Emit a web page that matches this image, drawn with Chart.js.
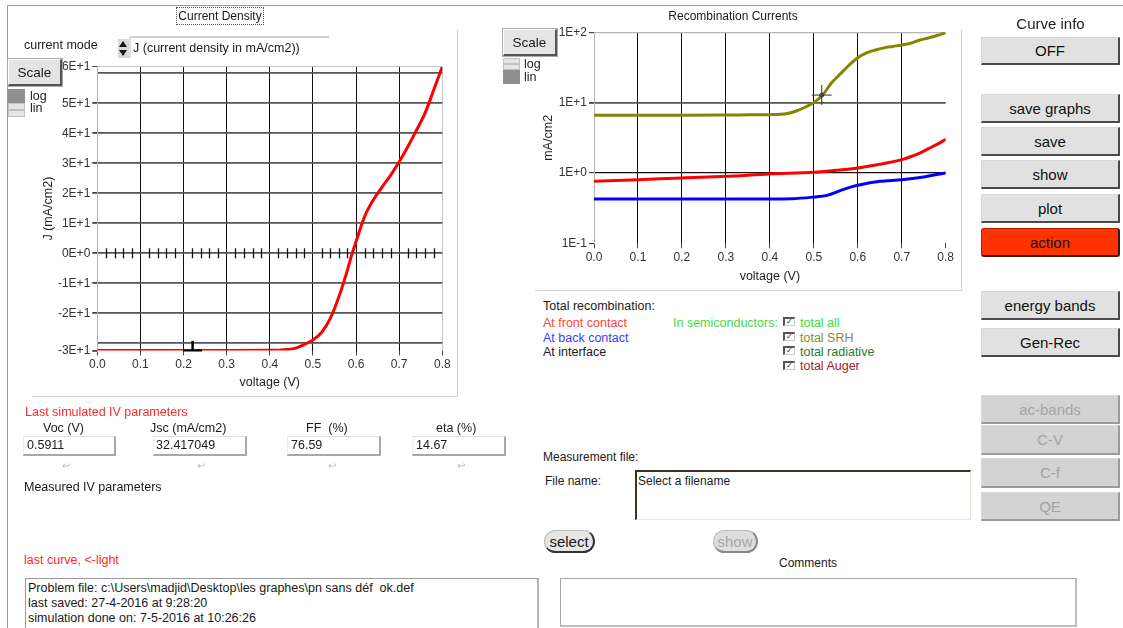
<!DOCTYPE html>
<html>
<head>
<meta charset="utf-8">
<script src="https://cdn.jsdelivr.net/npm/chart.js@4.4.0/dist/chart.umd.min.js"></script>
<style>
body{margin:0;background:#fff;font-family:"Liberation Sans",Arial,sans-serif;font-size:12.5px;color:#1a1a1a}
#win{position:relative;width:1123px;height:628px;overflow:hidden;background:#fff}
.t{position:absolute;white-space:nowrap;line-height:14px}
.ln{position:absolute}
.btn{position:absolute;left:981px;width:139px;box-sizing:border-box;background:#e1e1e1;
  border-top:1px solid #d8d8d8;border-left:1px solid #d8d8d8;border-right:2px solid #4a4a4a;border-bottom:2px solid #4a4a4a;
  font-size:15px;display:flex;align-items:center;justify-content:center;color:#111}
.btn.off{background:#d3d3d3;color:#a3a3a3;border-right:2px solid #9a9a9a;border-bottom:2px solid #9a9a9a}
.btn.red{background:#ff3300;border-radius:3px;border:1px solid #b02000;border-right:2px solid #3a1a10;border-bottom:2px solid #3a1a10}
.scale{position:absolute;width:54px;height:27px;box-sizing:border-box;background:#e4e4e4;
  border-top:1px solid #fff;border-left:1px solid #fff;border-right:2px solid #555;border-bottom:2px solid #555;
  box-shadow:0 0 0 1px #aaa;font-size:13.5px;display:flex;align-items:center;justify-content:center}
.box{position:absolute;box-sizing:border-box;background:#fff;border-top:1px solid #ddd;border-left:1px solid #eee;
  border-right:2px solid #a8a8a8;border-bottom:2px solid #a8a8a8;padding-left:3px;line-height:17px;font-size:12.5px}
.cb{position:absolute;left:783px;width:12px;height:9px;box-sizing:border-box;border-top:2px solid #555;border-left:2px solid #555;
  border-right:1px solid #ccc;border-bottom:1px solid #ccc;font-size:8px;line-height:6px;text-align:center;color:#222}
.curl{position:absolute;font-size:10px;color:#b8b8b8;line-height:10px}
.pill{position:absolute;top:530px;height:23px;box-sizing:border-box;border-radius:12px;background:#e6e6e6;
  border:1px solid #bbb;border-right:2px solid #333;border-bottom:2px solid #333;font-size:15px;display:flex;align-items:center;justify-content:center}
</style>
</head>
<body>
<div id="win">
  <div class="ln" style="left:7px;top:5px;width:1116px;height:1px;background:#8e9bb0"></div>
  <div class="ln" style="left:7px;top:5px;width:1px;height:623px;background:#8e9bb0"></div>

  <!-- left graph -->
  <canvas id="jvChart" width="460" height="400" style="position:absolute;left:0;top:0"></canvas>
  <div class="ln" style="left:457px;top:30px;width:1px;height:366px;background:#cfcfcf"></div>
  <div class="ln" style="left:32px;top:396px;width:426px;height:1px;background:#cfcfcf"></div>
  <div class="t" style="left:176px;top:7px;width:86px;height:16px;border:1px dotted #555;text-align:center;line-height:16px;font-size:12px">Current Density</div>
  <div class="t" style="left:24px;top:38px">current mode</div>
  <div class="ln" style="left:118px;top:39px;width:11px;height:19px;background:#d8d8d8"></div>
  <div class="ln" style="left:119px;top:41px;width:0;height:0;border-left:4.5px solid transparent;border-right:4.5px solid transparent;border-bottom:6px solid #111"></div>
  <div class="ln" style="left:119px;top:50px;width:0;height:0;border-left:4.5px solid transparent;border-right:4.5px solid transparent;border-top:6px solid #111"></div>
  <div class="ln" style="left:129px;top:36px;width:200px;height:2px;background:#d0d0d0"></div>
  <div class="ln" style="left:129px;top:36px;width:2px;height:22px;background:#e0e0e0"></div>
  <div class="t" style="left:133px;top:41px">J (current density in mA/cm2))</div>
  <div class="scale" style="left:8px;top:59px">Scale</div>
  <div class="ln" style="left:8px;top:89px;width:17px;height:14px;background:#8f8f8f"></div>
  <div class="ln" style="left:8px;top:103px;width:17px;height:7px;box-sizing:border-box;background:#e4e4e4;border:1px solid #c0c0c0"></div>
  <div class="ln" style="left:8px;top:110px;width:17px;height:7px;box-sizing:border-box;background:#e4e4e4;border:1px solid #c0c0c0"></div>
  <div class="t" style="left:30px;top:90px;line-height:12px">log</div>
  <div class="t" style="left:30px;top:102px;line-height:12px">lin</div>

  <!-- right graph -->
  <canvas id="recChart" width="462" height="290" style="position:absolute;left:500px;top:0"></canvas>
  <div class="ln" style="left:961px;top:30px;width:1px;height:260px;background:#cfcfcf"></div>
  <div class="ln" style="left:535px;top:290px;width:427px;height:1px;background:#cfcfcf"></div>
  <div class="t" style="left:633px;top:9px;width:200px;text-align:center;font-size:12px">Recombination Currents</div>
  <div class="scale" style="left:503px;top:29px">Scale</div>
  <div class="ln" style="left:503px;top:58px;width:17px;height:6px;box-sizing:border-box;background:#e4e4e4;border:1px solid #c0c0c0"></div>
  <div class="ln" style="left:503px;top:64px;width:17px;height:6px;box-sizing:border-box;background:#e4e4e4;border:1px solid #c0c0c0"></div>
  <div class="ln" style="left:503px;top:70px;width:17px;height:14px;background:#8f8f8f"></div>
  <div class="t" style="left:524px;top:58px;line-height:12px">log</div>
  <div class="t" style="left:524px;top:71px;line-height:12px">lin</div>

  <!-- legend of recombination -->
  <div class="t" style="left:543px;top:299px">Total recombination:</div>
  <div class="t" style="left:543px;top:316px;color:#ff4535">At front contact</div>
  <div class="t" style="left:543px;top:331px;color:#3a3aff">At back contact</div>
  <div class="t" style="left:543px;top:345px">At interface</div>
  <div class="t" style="left:673px;top:316px;color:#48d848">In semiconductors:</div>
  <div class="cb" style="top:317px">✓</div>
  <div class="cb" style="top:332px">✓</div>
  <div class="cb" style="top:346px">✓</div>
  <div class="cb" style="top:361px">✓</div>
  <div class="t" style="left:800px;top:316px;color:#36e036">total all</div>
  <div class="t" style="left:800px;top:331px;color:#8c8a30">total SRH</div>
  <div class="t" style="left:800px;top:345px;color:#1f7a35">total radiative</div>
  <div class="t" style="left:800px;top:359px;color:#a52028">total Auger</div>

  <!-- IV parameters -->
  <div class="t" style="left:25px;top:405px;color:#ff2a2a">Last simulated IV parameters</div>
  <div class="t" style="left:43px;top:421px">Voc (V)</div>
  <div class="t" style="left:150px;top:421px">Jsc (mA/cm2)</div>
  <div class="t" style="left:306px;top:421px">FF&nbsp; (%)</div>
  <div class="t" style="left:436px;top:421px">eta (%)</div>
  <div class="box" style="left:23px;top:436px;width:93px;height:20px">0.5911</div>
  <div class="box" style="left:153px;top:436px;width:94px;height:20px;padding-left:2px">32.417049</div>
  <div class="box" style="left:287px;top:436px;width:94px;height:20px">76.59</div>
  <div class="box" style="left:412px;top:436px;width:94px;height:20px">14.67</div>
  <div class="curl" style="left:62px;top:461px">↩</div>
  <div class="curl" style="left:197px;top:461px">↩</div>
  <div class="curl" style="left:328px;top:461px">↩</div>
  <div class="curl" style="left:457px;top:461px">↩</div>
  <div class="t" style="left:24px;top:480px">Measured IV parameters</div>
  <div class="t" style="left:24px;top:553px;color:#ff2a2a">last curve, &lt;-light</div>
  <div class="ln" style="left:25px;top:578px;width:514px;height:52px;box-sizing:border-box;border:1px solid #9a9a9a;border-right:2px solid #b5b5b5"></div>
  <div class="t" style="left:28px;top:581px">Problem file: c:\Users\madjid\Desktop\les graphes\pn sans déf&nbsp; ok.def</div>
  <div class="t" style="left:28px;top:596px">last saved: 27-4-2016 at 9:28:20</div>
  <div class="t" style="left:28px;top:611px">simulation done on: 7-5-2016 at 10:26:26</div>

  <!-- measurement file -->
  <div class="t" style="left:543px;top:450px;font-size:12px">Measurement file:</div>
  <div class="t" style="left:545px;top:474px;font-size:12px">File name:</div>
  <div class="ln" style="left:635px;top:470px;width:336px;height:50px;box-sizing:border-box;border-top:2px solid #3a3428;border-left:2px solid #3a3428;border-right:1px solid #ece8dc;border-bottom:1px solid #ece8dc"></div>
  <div class="t" style="left:638px;top:474px;font-size:12px">Select a filename</div>
  <div class="pill" style="left:544px;width:51px">select</div>
  <div class="pill" style="left:713px;width:45px;color:#a8a8a8;background:#dedede;border-right:2px solid #888;border-bottom:2px solid #888">show</div>
  <div class="t" style="left:758px;top:556px;width:100px;text-align:center;font-size:12px">Comments</div>
  <div class="ln" style="left:560px;top:578px;width:517px;height:49px;box-sizing:border-box;border:1px solid #a8a8a8;border-right:2px solid #bdbdbd;border-bottom:2px solid #bdbdbd"></div>

  <!-- right buttons -->
  <div class="t" style="left:981px;top:15px;width:139px;text-align:center;font-size:15px;line-height:17px">Curve info</div>
  <div class="btn" style="top:37px;height:28px">OFF</div>
  <div class="btn" style="top:94px;height:29px">save graphs</div>
  <div class="btn" style="top:127px;height:29px">save</div>
  <div class="btn" style="top:160px;height:29px">show</div>
  <div class="btn" style="top:194px;height:29px">plot</div>
  <div class="btn red" style="top:228px;height:29px">action</div>
  <div class="btn" style="top:291px;height:29px">energy bands</div>
  <div class="btn" style="top:328px;height:29px">Gen-Rec</div>
  <div class="btn off" style="top:395px;height:29px">ac-bands</div>
  <div class="btn off" style="top:425px;height:30px">C-V</div>
  <div class="btn off" style="top:458px;height:30px">C-f</div>
  <div class="btn off" style="top:492px;height:29px">QE</div>
</div>

<script>
// ---- data ----
var voltageTicks = [0, 0.1, 0.2, 0.3, 0.4, 0.5, 0.6, 0.7, 0.8];

// current density J(V)
var ivVoltage = [0, 0.1, 0.2, 0.3, 0.4, 0.42, 0.44, 0.46, 0.48, 0.50, 0.52, 0.54, 0.56, 0.58, 0.59, 0.60, 0.62, 0.64, 0.66, 0.68, 0.70, 0.72, 0.74, 0.76, 0.78, 0.80];
var ivCurrent = [-32.4, -32.4, -32.4, -32.4, -32.35, -32.3, -32.1, -31.6, -30.4, -28.9, -26.4, -21.8, -14.6, -5.6, -0.5, 3.9, 12.3, 17.8, 22, 26, 30.5, 35.5, 41, 46.7, 54.4, 62.2];
var jTickValues = [-32.4, -30, -20, -10, 0, 10, 20, 30, 40, 50, 60, 62.2];
var jTickLabels = ['-3E+1', '', '-2E+1', '-1E+1', '0E+0', '1E+1', '2E+1', '3E+1', '4E+1', '5E+1', '', '6E+1'];
var jCursor = {v: 0.221, j: -32.4, top: -29.2, from: 0.199, to: 0.243};

// recombination currents (mA/cm2)
var srhVoltage = [0, 0.1, 0.2, 0.3, 0.35, 0.4, 0.42, 0.44, 0.46, 0.48, 0.50, 0.52, 0.54, 0.56, 0.58, 0.60, 0.62, 0.64, 0.66, 0.68, 0.70, 0.72, 0.74, 0.76, 0.78, 0.80];
var srhCurrent = [6.6, 6.6, 6.6, 6.65, 6.7, 6.75, 6.8, 7.0, 7.6, 8.6, 10, 12.8, 19, 25.5, 34, 43.5, 51, 56, 60, 63, 66, 70, 77, 83, 90, 99];
var frontVoltage = [0, 0.1, 0.2, 0.3, 0.4, 0.5, 0.55, 0.6, 0.65, 0.7, 0.72, 0.74, 0.76, 0.78, 0.8];
var frontCurrent = [0.76, 0.80, 0.85, 0.895, 0.97, 1.02, 1.09, 1.18, 1.33, 1.55, 1.7, 1.9, 2.2, 2.55, 3.0];
var backVoltage = [0, 0.1, 0.2, 0.3, 0.4, 0.45, 0.5, 0.53, 0.56, 0.58, 0.6, 0.65, 0.7, 0.75, 0.8];
var backCurrent = [0.427, 0.427, 0.427, 0.427, 0.427, 0.43, 0.455, 0.48, 0.56, 0.62, 0.667, 0.76, 0.80, 0.877, 1.0];
var recTickValues = [0.1, 1, 10, 100];
var recTickLabels = ['1E-1', '1E+0', '1E+1', '1E+2'];
var recCursor = {v: 0.518, i: 12.8};

function pairs(xs, ys){
    return xs.map(function(x, i){ return {x: x, y: ys[i]}; });
}

var tickFont = {family: '"Liberation Sans", Arial, sans-serif', size: 12};
var titleFont = {family: '"Liberation Sans", Arial, sans-serif', size: 12.5};

// minor ticks on the J=0 line and the cursor mark
var jvExtras = {
    id: 'jvExtras',
    beforeDatasetsDraw: function(chart){
        var ctx = chart.ctx, xs = chart.scales.x, ys = chart.scales.y;
        var y0 = ys.getPixelForValue(0);
        ctx.save();
        ctx.strokeStyle = '#111';
        ctx.lineWidth = 1.3;
        for (var k = 1; k < 40; k++) {
            if (k % 5 === 0) continue;
            var px = Math.round(xs.getPixelForValue(k * 0.02)) + 0.5;
            ctx.beginPath();
            ctx.moveTo(px, y0 - 5);
            ctx.lineTo(px, y0 + 5);
            ctx.stroke();
        }
        ctx.restore();
    },
    afterDatasetsDraw: function(chart){
        var ctx = chart.ctx, xs = chart.scales.x, ys = chart.scales.y;
        ctx.save();
        ctx.strokeStyle = '#000';
        ctx.lineWidth = 2;
        ctx.beginPath();
        ctx.moveTo(xs.getPixelForValue(jCursor.from), ys.getPixelForValue(jCursor.j));
        ctx.lineTo(xs.getPixelForValue(jCursor.to), ys.getPixelForValue(jCursor.j));
        ctx.stroke();
        ctx.lineWidth = 2.5;
        ctx.beginPath();
        ctx.moveTo(xs.getPixelForValue(jCursor.v), ys.getPixelForValue(jCursor.top));
        ctx.lineTo(xs.getPixelForValue(jCursor.v), ys.getPixelForValue(jCursor.j));
        ctx.stroke();
        ctx.restore();
    }
};

var recExtras = {
    id: 'recExtras',
    afterDatasetsDraw: function(chart){
        var ctx = chart.ctx;
        var px = chart.scales.x.getPixelForValue(recCursor.v);
        var py = chart.scales.y.getPixelForValue(recCursor.i);
        ctx.save();
        ctx.strokeStyle = '#333';
        ctx.lineWidth = 1;
        ctx.beginPath();
        ctx.moveTo(px - 10, py); ctx.lineTo(px + 10, py);
        ctx.moveTo(px, py - 10); ctx.lineTo(px, py + 10);
        ctx.stroke();
        ctx.beginPath();
        ctx.arc(px, py, 2, 0, Math.PI * 2);
        ctx.stroke();
        ctx.restore();
    }
};

new Chart(document.getElementById('jvChart'), {
    type: 'line',
    data: {
        datasets: [{
            data: pairs(ivVoltage, ivCurrent),
            borderColor: '#ff0000',
            borderWidth: 3,
            pointRadius: 0,
            cubicInterpolationMode: 'monotone'
        }]
    },
    options: {
        responsive: false,
        animation: false,
        layout: {padding: {left: 36.8, top: 66.7, right: 17.7, bottom: 5.8}},
        plugins: {legend: {display: false}, tooltip: {enabled: false}},
        scales: {
            x: {
                type: 'linear', min: 0, max: 0.8,
                afterBuildTicks: function(s){ s.ticks = voltageTicks.map(function(v){ return {value: v}; }); },
                afterFit: function(s){ s.height = 43.7; },
                ticks: {font: tickFont, color: '#333', padding: 2, autoSkip: false, maxRotation: 0,
                        callback: function(v){ return v.toFixed(1); }},
                grid: {
                    color: function(c){ return c.tick && c.tick.value === 0 ? 'rgba(0,0,0,0)' : (c.tick && c.tick.value === 0.8 ? '#c4c4c4' : '#111'); },
                    lineWidth: 1, tickLength: 5, tickColor: '#444'
                },
                border: {display: false},
                title: {display: true, text: 'voltage (V)', font: titleFont, color: '#222', padding: {top: 4, bottom: 4}}
            },
            y: {
                type: 'linear', min: -32.4, max: 62.2,
                afterBuildTicks: function(s){ s.ticks = jTickValues.map(function(v){ return {value: v}; }); },
                afterFit: function(s){ s.width = 60.5; },
                ticks: {font: tickFont, color: '#333', padding: 2, autoSkip: false,
                        callback: function(v, i){ return jTickLabels[i]; }},
                grid: {
                    color: function(c){
                        if (!c.tick) return '#555';
                        if (c.tick.value === 62.2) return '#c4c4c4';
                        if (c.tick.value === -32.4) return 'rgba(0,0,0,0)';
                        return '#555';
                    },
                    lineWidth: function(c){ return c.tick && c.tick.value === 62.2 ? 1 : 1.8; },
                    tickLength: 5,
                    tickColor: function(c){ return c.tick && (c.tick.value === -30 || c.tick.value === 60) ? 'rgba(0,0,0,0)' : '#444'; }
                },
                border: {display: true, color: '#b5b5b5'},
                title: {display: true, text: 'J (mA/cm2)', font: titleFont, color: '#222', padding: {top: 4, bottom: 4}}
            }
        }
    },
    plugins: [jvExtras]
});

new Chart(document.getElementById('recChart'), {
    type: 'line',
    data: {
        datasets: [
            {data: pairs(srhVoltage, srhCurrent), borderColor: '#858500', borderWidth: 3, pointRadius: 0, cubicInterpolationMode: 'monotone'},
            {data: pairs(frontVoltage, frontCurrent), borderColor: '#ff0000', borderWidth: 3, pointRadius: 0, cubicInterpolationMode: 'monotone'},
            {data: pairs(backVoltage, backCurrent), borderColor: '#0000ff', borderWidth: 3, pointRadius: 0, cubicInterpolationMode: 'monotone'}
        ]
    },
    options: {
        responsive: false,
        animation: false,
        layout: {padding: {left: 36.8, top: 32.3, right: 16.3, bottom: 2.1}},
        plugins: {legend: {display: false}, tooltip: {enabled: false}},
        scales: {
            x: {
                type: 'linear', min: 0, max: 0.8,
                afterBuildTicks: function(s){ s.ticks = voltageTicks.map(function(v){ return {value: v}; }); },
                afterFit: function(s){ s.height = 44.6; },
                ticks: {font: tickFont, color: '#333', padding: 2, autoSkip: false, maxRotation: 0,
                        callback: function(v){ return v.toFixed(1); }},
                grid: {
                    color: function(c){ return c.tick && (c.tick.value === 0 || c.tick.value === 0.8) ? 'rgba(0,0,0,0)' : '#111'; },
                    lineWidth: 1, tickLength: 5, tickColor: '#444'
                },
                border: {display: false},
                title: {display: true, text: 'voltage (V)', font: titleFont, color: '#222', padding: {top: 4, bottom: 4}}
            },
            y: {
                type: 'logarithmic', min: 0.1, max: 100,
                afterBuildTicks: function(s){ s.ticks = recTickValues.map(function(v){ return {value: v}; }); },
                afterFit: function(s){ s.width = 57.2; },
                ticks: {font: tickFont, color: '#333', padding: 2, autoSkip: false,
                        callback: function(v, i){ return recTickLabels[i]; }},
                grid: {
                    color: function(c){
                        if (!c.tick) return '#555';
                        if (c.tick.value === 0.1) return 'rgba(0,0,0,0)';
                        if (c.tick.value === 100) return '#b5b5b5';
                        return c.tick.value === 10 ? '#555' : '#111';
                    },
                    lineWidth: function(c){ return c.tick && c.tick.value === 10 ? 1.8 : 1.2; },
                    tickLength: 5, tickColor: '#444'
                },
                border: {display: true, color: '#b5b5b5'},
                title: {display: true, text: 'mA/cm2', font: titleFont, color: '#222', padding: {top: 4, bottom: 4}}
            }
        }
    },
    plugins: [recExtras]
});
</script>
</body>
</html>
